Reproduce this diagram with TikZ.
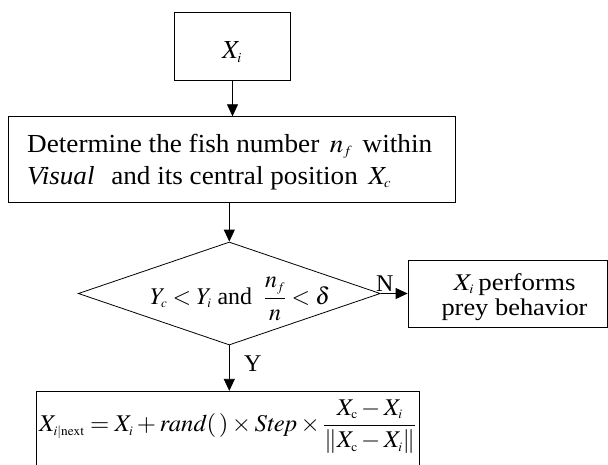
\documentclass[tikz,border=0pt]{standalone}
\usepackage{mathptmx}
\usepackage{graphicx}
\usepackage{fontspec}
\setmainfont{Liberation Serif}
\DeclareMathSizes{26}{26}{14}{10}
\DeclareMathSizes{24}{24}{13}{9}
\usetikzlibrary{arrows.meta,shapes.geometric,calc}
\newcommand{\fw}[2]{\resizebox{#1}{\height}{#2}}
\tikzset{
  box/.style={draw=black, line width=0.8pt, rectangle, inner sep=0pt},
  conn/.style={draw=black, line width=0.8pt, -{Triangle[length=12pt,width=11pt]}},
  txt/.style={font=\fontsize{26}{30}\selectfont, inner sep=0pt, anchor=base west},
  stxt/.style={font=\fontsize{24}{28}\selectfont, inner sep=0pt, anchor=base west},
}
\begin{document}
\begin{tikzpicture}[x=1pt,y=-1pt]
\useasboundingbox (0,0) rectangle (608,464);
\clip (0,0) rectangle (608,464);
% shapes
\node[box, minimum width=116pt, minimum height=68pt] (b1) at (232.5,46) {};
\node[box, minimum width=447pt, minimum height=85.6pt] (b2) at (232,159.5) {};
\node[draw=black, line width=0.8pt, diamond, minimum width=302pt, minimum height=103pt, inner sep=0pt] (dia) at (229.3,293.5) {};
\node[box, minimum width=199.3pt, minimum height=67.4pt] (b3) at (507.65,294) {};
\node[box, minimum width=383pt, minimum height=100pt] (b4) at (228.2,441.3) {};
% texts
\node[txt, anchor=base] (t1) at (232,58.5) {$X_i$};
\node[txt] (t2a) at (27,152) {\fw{405pt}{Determine the fish number\hspace{10pt}$n_f$\hspace{10pt}within}};
\node[txt] (t2b) at (27,184) {\fw{364pt}{\textit{Visual}\hspace{16pt}and its central position\hspace{10pt}$X_c$}};
\node[stxt] (t4) at (150,304) {\fw{180pt}{$Y_c < Y_i$\ and\ \ $\displaystyle\frac{n_f}{n} < \delta$}};
\node[inner sep=0pt, align=center, font=\fontsize{24}{25}\selectfont] (t3) at (514.5,297)
  {\fw{122pt}{$X_i$\,performs}\\\fw{146pt}{prey behavior}};
\node[stxt] (t5) at (39,431.5)
  {\fw{377pt}{$\displaystyle X_{i|\mathrm{next}} = X_i + \mathit{rand}(\,)\times \mathit{Step}\times\frac{X_{\mathrm{c}}-X_i}{\left\|X_{\mathrm{c}}-X_i\right\|}$}};
% connectors
\draw[conn] (b1.south) -- (b1.south |- b2.north);
\draw[conn] (dia.north |- b2.south) -- (dia.north);
\draw[conn] (dia.east) -- (dia.east -| b3.west);
\draw[conn] (dia.south) -- (dia.south |- b4.north);
\node[stxt] (nlab) at (376,291.5) {N};
\node[stxt] (ylab) at (244,371.5) {Y};
\end{tikzpicture}
\end{document}
